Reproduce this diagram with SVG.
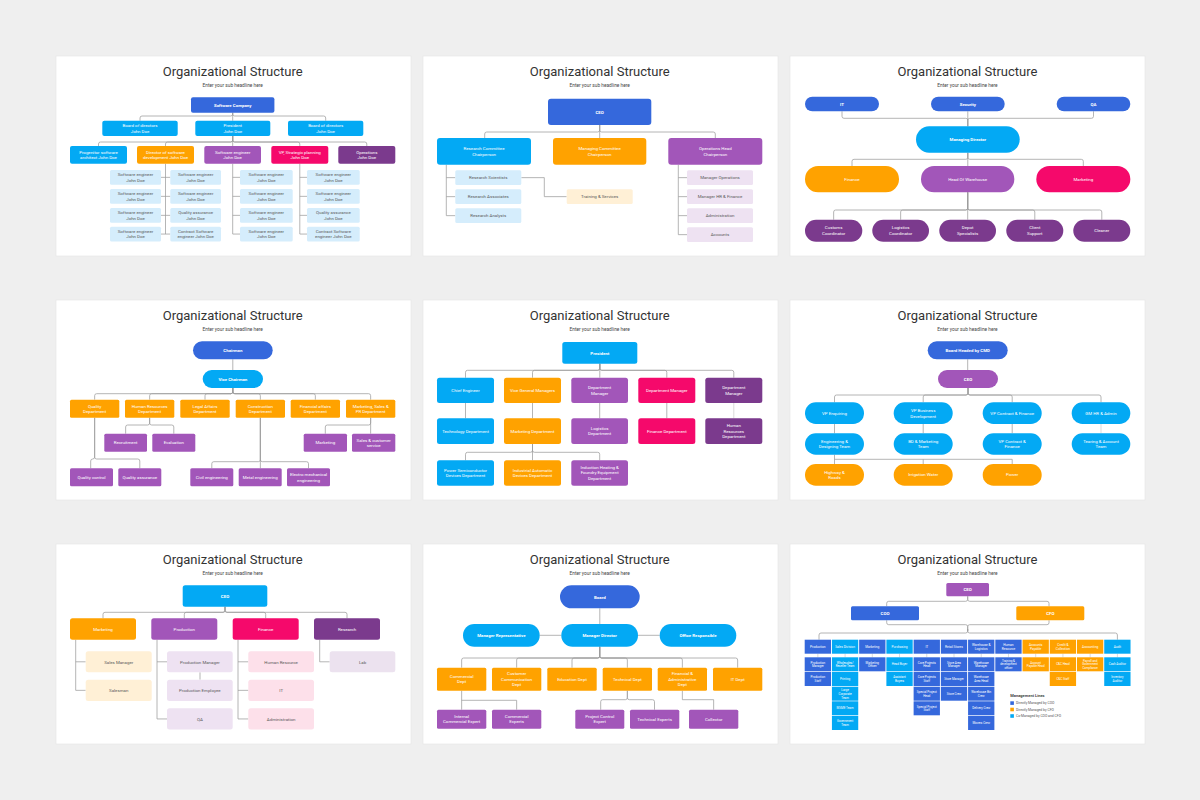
<svg xmlns="http://www.w3.org/2000/svg" width="1200" height="800" viewBox="0 0 1200 800">
<style>
.pg{fill:#fff;stroke:#e3e3e3;stroke-width:0.6}
.tt{font-family:Roboto,"Liberation Sans",Arial,sans-serif;font-size:13px;fill:#333;text-anchor:middle}
.st{font-family:Roboto,"Liberation Sans",Arial,sans-serif;font-size:4.8px;fill:#444;text-anchor:middle}
.tx{font-family:Roboto,"Liberation Sans",Arial,sans-serif;text-anchor:middle;font-size:4.4px}
.b{font-weight:700}
.wt{fill:#fff}
.dk{fill:#5a5a5a}
.db{fill:#3568dc}.cy{fill:#03a9f4}.or{fill:#ffa200}.pu{fill:#a256b9}.mg{fill:#f5096b}.dp{fill:#7b3a8d}
.pb{fill:#d5edfc}.po{fill:#fff0d6}.pp{fill:#eee2f2}.pk{fill:#fde0ea}.pl{fill:#ece2ef}
.ln{fill:none;stroke:#9c9c9c;stroke-width:0.75}
.lt{fill:none;stroke:#cfcfcf;stroke-width:0.75}
.c9{font-size:3px}
.h9{font-size:3.2px}
.t9{font-size:2.9px}
</style>
<rect width="1200" height="800" fill="#efefef"/>

<!-- ================= SLIDE 1 ================= -->
<g id="slide1" transform="translate(55,55)">
<rect class="pg" x="1" y="1" width="355" height="200"/>
<text class="tt" x="177.7" y="20.8">Organizational Structure</text>
<text class="st" x="177.7" y="31.5">Enter your sub headline here</text>
<g id="s1-connectors">
<path class="ln" d="M177.7 57.7V59Q177.7 61 175.7 61H87Q85 61 85 63V65.7M177.7 57.7V65.7M177.7 57.7V59Q177.7 61 179.7 61H268.7Q270.7 61 270.7 63V65.7"/>
<path class="ln" d="M177.7 81V85Q177.7 87 175.7 87H45.5Q43.5 87 43.5 89V91M177.7 81V85Q177.7 87 175.7 87H112.5Q110.5 87 110.5 89V91M177.7 81V91M177.7 81V85Q177.7 87 179.7 87H242.8Q244.8 87 244.8 89V91M177.7 81V85Q177.7 87 179.7 87H309.8Q311.8 87 311.8 89V91"/>
<path class="ln" d="M110.5 108.7V179.05M106 122.35H115.3M106 141.35H115.3M106 160.35H115.3M106 179.05H115.3"/>
<path class="ln" d="M177.7 108.7V179.05M177.7 122.35H185M177.7 141.35H185M177.7 160.35H185M177.7 179.05H185"/>
<path class="ln" d="M244.8 108.7V179.05M244.8 122.35H252M244.8 141.35H252M244.8 160.35H252M244.8 179.05H252"/>
</g>
<g id="s1-root"><rect class="db" x="136" y="42.3" width="83.4" height="15.4" rx="2"/><text class="tx b wt" font-size="5.2" x="177.7" y="51.8">Software Company</text></g>
<g id="s1-board1"><rect class="cy" x="47.3" y="65.7" width="75.4" height="15.3" rx="2"/><text class="tx wt" x="85" y="72">Board of directors<tspan x="85" dy="5.7">John Doe</tspan></text></g>
<g id="s1-president"><rect class="cy" x="140.3" y="65.7" width="75" height="15.3" rx="2"/><text class="tx wt" x="177.8" y="72">President<tspan x="177.8" dy="5.7">John Doe</tspan></text></g>
<g id="s1-board2"><rect class="cy" x="233" y="65.7" width="75.3" height="15.3" rx="2"/><text class="tx wt" x="270.65" y="72">Board of directors<tspan x="270.65" dy="5.7">John Doe</tspan></text></g>
<g id="s1-progenitor"><rect class="cy" x="15" y="91" width="57" height="17.7" rx="2"/><text class="tx wt" x="43.5" y="98.6">Progenitor software<tspan x="43.5" dy="5.6">architect  John Doe</tspan></text></g>
<g id="s1-director"><rect class="or" x="82" y="91" width="57" height="17.7" rx="2"/><text class="tx wt" x="110.5" y="98.6">Director of software<tspan x="110.5" dy="5.6">development  John Doe</tspan></text></g>
<g id="s1-swe"><rect class="pu" x="149.3" y="91" width="56.7" height="17.7" rx="2"/><text class="tx wt" x="177.65" y="98.6">Software engineer<tspan x="177.65" dy="5.6">John Doe</tspan></text></g>
<g id="s1-vp"><rect class="mg" x="216.3" y="91" width="57" height="17.7" rx="2"/><text class="tx wt" x="244.8" y="98.6">VP, Strategic planning<tspan x="244.8" dy="5.6">John Doe</tspan></text></g>
<g id="s1-ops"><rect class="dp" x="283.3" y="91" width="57" height="17.7" rx="2"/><text class="tx wt" x="311.8" y="98.6">Operations<tspan x="311.8" dy="5.6">John Doe</tspan></text></g>
<g id="s1-a1"><rect class="pb" x="55" y="115" width="51" height="14.7" rx="1.5"/><text class="tx dk" font-size="4.2" x="80.5" y="121.15">Software engineer<tspan x="80.5" dy="5.6">John Doe</tspan></text></g>
<g id="s1-a2"><rect class="pb" x="55" y="134" width="51" height="14.7" rx="1.5"/><text class="tx dk" font-size="4.2" x="80.5" y="140.15">Software engineer<tspan x="80.5" dy="5.6">John Doe</tspan></text></g>
<g id="s1-a3"><rect class="pb" x="55" y="153" width="51" height="14.7" rx="1.5"/><text class="tx dk" font-size="4.2" x="80.5" y="159.15">Software engineer<tspan x="80.5" dy="5.6">John Doe</tspan></text></g>
<g id="s1-a4"><rect class="pb" x="55" y="171.7" width="51" height="14.7" rx="1.5"/><text class="tx dk" font-size="4.2" x="80.5" y="177.85">Software engineer<tspan x="80.5" dy="5.6">John Doe</tspan></text></g>
<g id="s1-b1"><rect class="pb" x="115.3" y="115" width="50.7" height="14.7" rx="1.5"/><text class="tx dk" font-size="4.2" x="140.65" y="121.15">Software engineer<tspan x="140.65" dy="5.6">John Doe</tspan></text></g>
<g id="s1-b2"><rect class="pb" x="115.3" y="134" width="50.7" height="14.7" rx="1.5"/><text class="tx dk" font-size="4.2" x="140.65" y="140.15">Software engineer<tspan x="140.65" dy="5.6">John Doe</tspan></text></g>
<g id="s1-b3"><rect class="pb" x="115.3" y="153" width="50.7" height="14.7" rx="1.5"/><text class="tx dk" font-size="4.2" x="140.65" y="159.15">Quality assurance<tspan x="140.65" dy="5.6">John Doe</tspan></text></g>
<g id="s1-b4"><rect class="pb" x="115.3" y="171.7" width="50.7" height="14.7" rx="1.5"/><text class="tx dk" font-size="4.2" x="140.65" y="177.85">Contract Software<tspan x="140.65" dy="5.6">engineer  John Doe</tspan></text></g>
<g id="s1-c1"><rect class="pb" x="185" y="115" width="52.7" height="14.7" rx="1.5"/><text class="tx dk" font-size="4.2" x="211.35" y="121.15">Software engineer<tspan x="211.35" dy="5.6">John Doe</tspan></text></g>
<g id="s1-c2"><rect class="pb" x="185" y="134" width="52.7" height="14.7" rx="1.5"/><text class="tx dk" font-size="4.2" x="211.35" y="140.15">Software engineer<tspan x="211.35" dy="5.6">John Doe</tspan></text></g>
<g id="s1-c3"><rect class="pb" x="185" y="153" width="52.7" height="14.7" rx="1.5"/><text class="tx dk" font-size="4.2" x="211.35" y="159.15">Software engineer<tspan x="211.35" dy="5.6">John Doe</tspan></text></g>
<g id="s1-c4"><rect class="pb" x="185" y="171.7" width="52.7" height="14.7" rx="1.5"/><text class="tx dk" font-size="4.2" x="211.35" y="177.85">Software engineer<tspan x="211.35" dy="5.6">John Doe</tspan></text></g>
<g id="s1-d1"><rect class="pb" x="252" y="115" width="52.7" height="14.7" rx="1.5"/><text class="tx dk" font-size="4.2" x="278.35" y="121.15">Software engineer<tspan x="278.35" dy="5.6">John Doe</tspan></text></g>
<g id="s1-d2"><rect class="pb" x="252" y="134" width="52.7" height="14.7" rx="1.5"/><text class="tx dk" font-size="4.2" x="278.35" y="140.15">Software engineer<tspan x="278.35" dy="5.6">John Doe</tspan></text></g>
<g id="s1-d3"><rect class="pb" x="252" y="153" width="52.7" height="14.7" rx="1.5"/><text class="tx dk" font-size="4.2" x="278.35" y="159.15">Quality assurance<tspan x="278.35" dy="5.6">John Doe</tspan></text></g>
<g id="s1-d4"><rect class="pb" x="252" y="171.7" width="52.7" height="14.7" rx="1.5"/><text class="tx dk" font-size="4.2" x="278.35" y="177.85">Contract Software<tspan x="278.35" dy="5.6">engineer  John Doe</tspan></text></g>
</g>

<!-- ================= SLIDE 2 ================= -->
<g id="slide2" transform="translate(422,55)">
<rect class="pg" x="1" y="1" width="355" height="200"/>
<text class="tt" x="177.7" y="20.8">Organizational Structure</text>
<text class="st" x="177.7" y="31.5">Enter your sub headline here</text>
<g id="s2-connectors">
<path class="ln" d="M177.7 70V83M177.7 70V75Q177.7 77 175.7 77H64.7Q62.7 77 62.7 79V83M177.7 70V75Q177.7 77 179.7 77H291.3Q293.3 77 293.3 79V83"/>
<path class="ln" d="M24.3 109.7V160.65M24.3 122.65H33.3M24.3 141.65H33.3M24.3 160.65H33.3"/>
<path class="ln" d="M99.3 122.65H122.3V141.65H144.7"/>
<path class="ln" d="M256.3 109.7V179.65M256.3 122.65H265M256.3 141.65H265M256.3 160.65H265M256.3 179.65H265"/>
</g>
<g id="s2-ceo"><rect class="db" x="126" y="43.7" width="103.3" height="26.3" rx="3"/><text class="tx b wt" font-size="5.3" x="177.7" y="58.8">CEO</text></g>
<g id="s2-research"><rect class="cy" x="15" y="83" width="94" height="26.7" rx="3"/><text class="tx wt" font-size="4.8" x="62" y="95.3">Research Committee<tspan x="62" dy="6">Chairperson</tspan></text></g>
<g id="s2-managing"><rect class="or" x="131" y="83" width="93.3" height="26.7" rx="3"/><text class="tx wt" font-size="4.8" x="177.65" y="95.3">Managing Committee<tspan x="177.65" dy="6">Chairperson</tspan></text></g>
<g id="s2-operations"><rect class="pu" x="246.3" y="83" width="94" height="26.7" rx="3"/><text class="tx wt" font-size="4.8" x="293.3" y="95.3">Operations Head<tspan x="293.3" dy="6">Chairperson</tspan></text></g>
<g id="s2-scientists"><rect class="pb" x="33.3" y="115.3" width="66" height="14.7" rx="1.5"/><text class="tx dk" x="66.3" y="124.2">Research Scientists</text></g>
<g id="s2-associates"><rect class="pb" x="33.3" y="134.3" width="66" height="14.7" rx="1.5"/><text class="tx dk" x="66.3" y="143.2">Research Associates</text></g>
<g id="s2-analysts"><rect class="pb" x="33.3" y="153.3" width="66" height="14.7" rx="1.5"/><text class="tx dk" x="66.3" y="162.2">Research Analysts</text></g>
<g id="s2-training"><rect class="po" x="144.7" y="134.3" width="66" height="14.7" rx="1.5"/><text class="tx dk" x="177.7" y="143.2">Training &amp; Services</text></g>
<g id="s2-mgrops"><rect class="pp" x="265" y="115.3" width="66" height="14.7" rx="1.5"/><text class="tx dk" x="298" y="124.2">Manager Operations</text></g>
<g id="s2-mgrhr"><rect class="pp" x="265" y="134.3" width="66" height="14.7" rx="1.5"/><text class="tx dk" x="298" y="143.2">Manager HR &amp; Finance</text></g>
<g id="s2-admin"><rect class="pp" x="265" y="153.3" width="66" height="14.7" rx="1.5"/><text class="tx dk" x="298" y="162.2">Administration</text></g>
<g id="s2-accounts"><rect class="pp" x="265" y="172.3" width="66" height="14.7" rx="1.5"/><text class="tx dk" x="298" y="181.2">Accounts</text></g>
</g>

<!-- ================= SLIDE 3 ================= -->
<g id="slide3" transform="translate(789,55)">
<rect class="pg" x="1" y="1" width="355" height="200"/>
<text class="tt" x="178.5" y="20.8">Organizational Structure</text>
<text class="st" x="178.5" y="31.5">Enter your sub headline here</text>
<g id="s3-connectors">
<path class="ln" d="M53 56.3V61.3Q53 63.3 55 63.3H176.8Q178.8 63.3 178.8 65.3V71.3M178.8 56.3V71.3M304.5 56.3V61.3Q304.5 63.3 302.5 63.3H180.8Q178.8 63.3 178.8 65.3V71.3"/>
<path class="ln" d="M178.8 97.7V111M178.8 97.7V102.3Q178.8 104.3 176.8 104.3H65Q63 104.3 63 106.3V111M178.8 97.7V102.3Q178.8 104.3 180.8 104.3H292.3Q294.3 104.3 294.3 106.3V111"/>
<path class="ln" d="M178.7 137.3V153Q178.7 155 176.7 155H46.65Q44.65 155 44.65 157V164.7M178.7 137.3V153Q178.7 155 176.7 155H113.65Q111.65 155 111.65 157V164.7M178.7 137.3V164.7M178.7 137.3V153Q178.7 155 180.7 155H243.8Q245.8 155 245.8 157V164.7M178.7 137.3V153Q178.7 155 180.7 155H310.8Q312.8 155 312.8 157V164.7"/>
</g>
<g id="s3-it"><rect class="db" x="16" y="41.7" width="74" height="14.6" rx="7.3"/><text class="tx b wt" font-size="5" x="53" y="50.8">IT</text></g>
<g id="s3-security"><rect class="db" x="142" y="41.7" width="73.7" height="14.6" rx="7.3"/><text class="tx b wt" font-size="5" x="178.85" y="50.8">Security</text></g>
<g id="s3-qa"><rect class="db" x="267.7" y="41.7" width="73.6" height="14.6" rx="7.3"/><text class="tx b wt" font-size="5" x="304.5" y="50.8">QA</text></g>
<g id="s3-md"><rect class="cy" x="127" y="71.3" width="103.7" height="26.4" rx="13.2"/><text class="tx b wt" font-size="5.3" x="178.85" y="86.4">Managing Director</text></g>
<g id="s3-finance"><rect class="or" x="16" y="111" width="94" height="26.3" rx="13.1"/><text class="tx wt" font-size="5.3" x="63" y="126">Finance</text></g>
<g id="s3-how"><rect class="pu" x="132" y="111" width="93.3" height="26.3" rx="13.1"/><text class="tx wt" font-size="5.3" x="178.65" y="126">Head Of Warehouse</text></g>
<g id="s3-marketing"><rect class="mg" x="247.3" y="111" width="94" height="26.3" rx="13.1"/><text class="tx wt" font-size="5.3" x="294.3" y="126">Marketing</text></g>
<g id="s3-customs"><rect class="dp" x="16" y="164.7" width="57.3" height="22" rx="11"/><text class="tx wt" x="44.65" y="174.4">Customs<tspan x="44.65" dy="5.6">Coordinator</tspan></text></g>
<g id="s3-logistics"><rect class="dp" x="83.3" y="164.7" width="56.7" height="22" rx="11"/><text class="tx wt" x="111.65" y="174.4">Logistics<tspan x="111.65" dy="5.6">Coordinator</tspan></text></g>
<g id="s3-depot"><rect class="dp" x="150.3" y="164.7" width="56.7" height="22" rx="11"/><text class="tx wt" x="178.65" y="174.4">Depot<tspan x="178.65" dy="5.6">Specialists</tspan></text></g>
<g id="s3-client"><rect class="dp" x="217.3" y="164.7" width="57" height="22" rx="11"/><text class="tx wt" x="245.8" y="174.4">Client<tspan x="245.8" dy="5.6">Support</tspan></text></g>
<g id="s3-cleaner"><rect class="dp" x="284.3" y="164.7" width="57" height="22" rx="11"/><text class="tx wt" x="312.8" y="177.3">Cleaner</text></g>
</g>

<!-- ================= SLIDE 4 ================= -->
<g id="slide4" transform="translate(55,299)">
<rect class="pg" x="1" y="1" width="355" height="200"/>
<text class="tt" x="177.7" y="20.8">Organizational Structure</text>
<text class="st" x="177.7" y="31.5">Enter your sub headline here</text>
<g id="s4-connectors">
<path class="ln" d="M177.8 60.3V71"/>
<path class="ln" d="M177.8 89V92.7Q177.8 94.7 175.8 94.7H41.65Q39.65 94.7 39.65 96.7V100.7M177.8 89V92.7Q177.8 94.7 175.8 94.7H96.65Q94.65 94.7 94.65 96.7V100.7M177.8 89V92.7Q177.8 94.7 175.8 94.7H152Q150 94.7 150 96.7V100.7M177.8 89V92.7Q177.8 94.7 179.8 94.7H203.35Q205.35 94.7 205.35 96.7V100.7M177.8 89V92.7Q177.8 94.7 179.8 94.7H258.35Q260.35 94.7 260.35 96.7V100.7M177.8 89V92.7Q177.8 94.7 179.8 94.7H313.65Q315.65 94.7 315.65 96.7V100.7"/>
<path class="ln" d="M94.65 118.7V124Q94.65 126 92.65 126H72.65Q70.65 126 70.65 128V134.7M94.65 118.7V124Q94.65 126 96.65 126H116.8Q118.8 126 118.8 128V134.7"/>
<path class="ln" d="M315.65 118.7V134.7M315.65 118.7V124Q315.65 126 313.65 126H272.3Q270.3 126 270.3 128V134.7"/>
<path class="ln" d="M39.65 118.7V158Q39.65 160 37.65 160Q35.7 160 35.7 162V169.3M39.65 118.7V158Q39.65 160 41.65 160H82.8Q84.8 160 84.8 162V169.3"/>
<path class="ln" d="M205.35 118.7V169.3M205.35 118.7V160.7Q205.35 162.7 203.35 162.7H158.8Q156.8 162.7 156.8 164.7V169.3M205.35 118.7V160.7Q205.35 162.7 207.35 162.7H251.5Q253.5 162.7 253.5 164.7V169.3"/>
</g>
<g id="s4-chairman"><rect class="db" x="138" y="42.3" width="79.7" height="18" rx="9"/><text class="tx b wt" font-size="5.2" x="177.85" y="53.2">Chairman</text></g>
<g id="s4-vice"><rect class="cy" x="147.7" y="71" width="60.3" height="18" rx="9"/><text class="tx b wt" font-size="5" x="177.85" y="81.8">Vice Chairman</text></g>
<g id="s4-quality"><rect class="or" x="15" y="100.7" width="49.3" height="18" rx="1.5"/><text class="tx wt" font-size="4.2" x="39.65" y="108.6">Quality<tspan x="39.65" dy="5.4">Department</tspan></text></g>
<g id="s4-hr"><rect class="or" x="70" y="100.7" width="49.3" height="18" rx="1.5"/><text class="tx wt" font-size="4.2" x="94.65" y="108.6">Human Resources<tspan x="94.65" dy="5.4">Department</tspan></text></g>
<g id="s4-legal"><rect class="or" x="125.3" y="100.7" width="49.4" height="18" rx="1.5"/><text class="tx wt" font-size="4.2" x="150" y="108.6">Legal Affairs<tspan x="150" dy="5.4">Department</tspan></text></g>
<g id="s4-construction"><rect class="or" x="180.7" y="100.7" width="49.3" height="18" rx="1.5"/><text class="tx wt" font-size="4.2" x="205.35" y="108.6">Construction<tspan x="205.35" dy="5.4">Department</tspan></text></g>
<g id="s4-financial"><rect class="or" x="235.7" y="100.7" width="49.3" height="18" rx="1.5"/><text class="tx wt" font-size="4.2" x="260.35" y="108.6">Financial affairs<tspan x="260.35" dy="5.4">Department</tspan></text></g>
<g id="s4-mktsales"><rect class="or" x="291" y="100.7" width="49.3" height="18" rx="1.5"/><text class="tx wt" font-size="4.2" x="315.65" y="108.6">Marketing, Sales &amp;<tspan x="315.65" dy="5.4">PR Department</tspan></text></g>
<g id="s4-recruitment"><rect class="pu" x="49.3" y="134.7" width="42.7" height="18" rx="1.5"/><text class="tx wt" font-size="4.2" x="70.65" y="145.2">Recruitment</text></g>
<g id="s4-evaluation"><rect class="pu" x="97.3" y="134.7" width="43" height="18" rx="1.5"/><text class="tx wt" font-size="4.2" x="118.8" y="145.2">Evaluation</text></g>
<g id="s4-marketing"><rect class="pu" x="248.7" y="134.7" width="43.3" height="18" rx="1.5"/><text class="tx wt" font-size="4.2" x="270.35" y="145.2">Marketing</text></g>
<g id="s4-sales"><rect class="pu" x="297" y="134.7" width="43.3" height="18" rx="1.5"/><text class="tx wt" font-size="4.2" x="318.65" y="142.6">Sales &amp; customer<tspan x="318.65" dy="5.4">service</tspan></text></g>
<g id="s4-qc"><rect class="pu" x="15" y="169.3" width="43" height="18" rx="1.5"/><text class="tx wt" font-size="4.2" x="36.5" y="179.8">Quality control</text></g>
<g id="s4-qa"><rect class="pu" x="63.3" y="169.3" width="43" height="18" rx="1.5"/><text class="tx wt" font-size="4.2" x="84.8" y="179.8">Quality assurance</text></g>
<g id="s4-civil"><rect class="pu" x="135.3" y="169.3" width="43" height="18" rx="1.5"/><text class="tx wt" font-size="4.2" x="156.8" y="179.8">Civil engineering</text></g>
<g id="s4-metal"><rect class="pu" x="183.7" y="169.3" width="43" height="18" rx="1.5"/><text class="tx wt" font-size="4.2" x="205.2" y="179.8">Metal engineering</text></g>
<g id="s4-electro"><rect class="pu" x="232" y="169.3" width="43" height="18" rx="1.5"/><text class="tx wt" font-size="4.2" x="253.5" y="177.2">Electro mechanical<tspan x="253.5" dy="5.4">engineering</tspan></text></g>
</g>

<!-- ================= SLIDE 5 ================= -->
<g id="slide5" transform="translate(422,299)">
<rect class="pg" x="1" y="1" width="355" height="200"/>
<text class="tt" x="177.7" y="20.8">Organizational Structure</text>
<text class="st" x="177.7" y="31.5">Enter your sub headline here</text>
<g id="s5-connectors">
<path class="ln" d="M177.8 64.7V69.3Q177.8 71.3 175.8 71.3H45.5Q43.5 71.3 43.5 73.3V78.7M177.8 64.7V69.3Q177.8 71.3 175.8 71.3H112.5Q110.5 71.3 110.5 73.3V78.7M177.8 64.7V78.7M177.8 64.7V69.3Q177.8 71.3 179.8 71.3H242.8Q244.8 71.3 244.8 73.3V78.7M177.8 64.7V69.3Q177.8 71.3 179.8 71.3H309.8Q311.8 71.3 311.8 73.3V78.7"/>
<path class="ln" d="M43.5 104V119.3M110.5 104V119.3M177.7 104V119.3M244.8 104V119.3"/>
<path class="lt" d="M311.8 104V119.3"/>
<path class="ln" d="M110.5 145V161.3M110.5 145V151.3Q110.5 153.3 108.5 153.3H45.5Q43.5 153.3 43.5 155.3V161.3M110.5 145V151.3Q110.5 153.3 112.5 153.3H175.7Q177.7 153.3 177.7 155.3V161.3"/>
</g>
<g id="s5-president"><rect class="cy" x="140.3" y="43" width="75" height="21.7" rx="2.5"/><text class="tx b wt" font-size="5.2" x="177.8" y="55.7">President</text></g>
<g id="s5-chief"><rect class="cy" x="15" y="78.7" width="57" height="25.3" rx="2.5"/><text class="tx wt" x="43.5" y="92.9">Chief Engineer</text></g>
<g id="s5-vgm"><rect class="or" x="82" y="78.7" width="57" height="25.3" rx="2.5"/><text class="tx wt" x="110.5" y="92.9">Vice General Managers</text></g>
<g id="s5-dm1"><rect class="pu" x="149.3" y="78.7" width="56.7" height="25.3" rx="2.5"/><text class="tx wt" x="177.65" y="90.1">Department<tspan x="177.65" dy="5.5">Manager</tspan></text></g>
<g id="s5-dm2"><rect class="mg" x="216.3" y="78.7" width="57" height="25.3" rx="2.5"/><text class="tx wt" x="244.8" y="92.9">Department Manager</text></g>
<g id="s5-dm3"><rect class="dp" x="283.3" y="78.7" width="57" height="25.3" rx="2.5"/><text class="tx wt" x="311.8" y="90.1">Department<tspan x="311.8" dy="5.5">Manager</tspan></text></g>
<g id="s5-tech"><rect class="cy" x="15" y="119.3" width="57" height="25.7" rx="2.5"/><text class="tx wt" x="43.5" y="133.7">Technology Department</text></g>
<g id="s5-mkt"><rect class="or" x="82" y="119.3" width="57" height="25.7" rx="2.5"/><text class="tx wt" x="110.5" y="133.7">Marketing Department</text></g>
<g id="s5-logistics"><rect class="pu" x="149.3" y="119.3" width="56.7" height="25.7" rx="2.5"/><text class="tx wt" x="177.65" y="130.9">Logistics<tspan x="177.65" dy="5.5">Department</tspan></text></g>
<g id="s5-finance"><rect class="mg" x="216.3" y="119.3" width="57" height="25.7" rx="2.5"/><text class="tx wt" x="244.8" y="133.7">Finance Department</text></g>
<g id="s5-hr"><rect class="dp" x="283.3" y="119.3" width="57" height="25.7" rx="2.5"/><text class="tx wt" x="311.8" y="128.3">Human<tspan x="311.8" dy="5.4">Resources</tspan><tspan x="311.8" dy="5.4">Department</tspan></text></g>
<g id="s5-power"><rect class="cy" x="15" y="161.3" width="57" height="25.4" rx="2.5"/><text class="tx wt" x="43.5" y="172.7">Power Semiconductor<tspan x="43.5" dy="5.5">Devices Department</tspan></text></g>
<g id="s5-industrial"><rect class="or" x="82" y="161.3" width="57" height="25.4" rx="2.5"/><text class="tx wt" x="110.5" y="172.7">Industrial Automatic<tspan x="110.5" dy="5.5">Devices Department</tspan></text></g>
<g id="s5-induction"><rect class="pu" x="149.3" y="161.3" width="56.7" height="25.4" rx="2.5"/><text class="tx wt" x="177.65" y="170">Induction Heating &amp;<tspan x="177.65" dy="5.4">Foundry Equipment</tspan><tspan x="177.65" dy="5.4">Department</tspan></text></g>
</g>

<!-- ================= SLIDE 6 ================= -->
<g id="slide6" transform="translate(789,299)">
<rect class="pg" x="1" y="1" width="355" height="200"/>
<text class="tt" x="178.5" y="20.8">Organizational Structure</text>
<text class="st" x="178.5" y="31.5">Enter your sub headline here</text>
<g id="s6-connectors">
<path class="ln" d="M178.7 60.3V71"/>
<path class="ln" d="M179 89V94Q179 96 177 96H47.5Q45.5 96 45.5 98V103.3M179 89V94Q179 96 177 96H136.2Q134.2 96 134.2 98V103.3M179 89V94Q179 96 181 96H221.2Q223.2 96 223.2 98V103.3M179 89V94Q179 96 181 96H310Q312 96 312 98V103.3"/>
<path class="ln" d="M45.5 125V134.3M134.2 125V134.3M223.2 125V134.3"/>
<path class="lt" d="M312 125V134.3"/>
<path class="ln" d="M45.5 155.7V165M45.5 160.3H223.2V165M134.2 160.3V165"/>
</g>
<g id="s6-board"><rect class="db" x="138.7" y="42.3" width="80" height="18" rx="9"/><text class="tx b wt" font-size="5" x="178.7" y="53.1">Board Headed by CMD</text></g>
<g id="s6-ceo"><rect class="pu" x="149" y="71" width="60" height="18" rx="9"/><text class="tx b wt" font-size="4.8" x="179" y="81.7">CEO</text></g>
<g id="s6-vpe"><rect class="cy" x="16" y="103.3" width="59" height="21.7" rx="10.8"/><text class="tx wt" x="45.5" y="115.7">VP Enquiring</text></g>
<g id="s6-vpb"><rect class="cy" x="104.7" y="103.3" width="59" height="21.7" rx="10.8"/><text class="tx wt" x="134.2" y="112.9">VP Business<tspan x="134.2" dy="5.6">Development</tspan></text></g>
<g id="s6-vpc"><rect class="cy" x="193.7" y="103.3" width="59" height="21.7" rx="10.8"/><text class="tx wt" x="223.2" y="115.7">VP Contract &amp; Finance</text></g>
<g id="s6-gm"><rect class="cy" x="282.7" y="103.3" width="58.6" height="21.7" rx="10.8"/><text class="tx wt" x="312" y="115.7">GM HR &amp; Admin</text></g>
<g id="s6-eng"><rect class="cy" x="16" y="134.3" width="59" height="21.4" rx="10.7"/><text class="tx wt" x="45.5" y="143.7">Engineering &amp;<tspan x="45.5" dy="5.6">Designing  Team</tspan></text></g>
<g id="s6-bd"><rect class="cy" x="104.7" y="134.3" width="59" height="21.4" rx="10.7"/><text class="tx wt" x="134.2" y="143.7">BD &amp; Marketing<tspan x="134.2" dy="5.6">Team</tspan></text></g>
<g id="s6-vpc2"><rect class="cy" x="193.7" y="134.3" width="59" height="21.4" rx="10.7"/><text class="tx wt" x="223.2" y="143.7">VP Contract &amp;<tspan x="223.2" dy="5.6">Finance</tspan></text></g>
<g id="s6-tearing"><rect class="cy" x="282.7" y="134.3" width="58.6" height="21.4" rx="10.7"/><text class="tx wt" x="312" y="143.7">Tearing &amp; Account<tspan x="312" dy="5.6">Team</tspan></text></g>
<g id="s6-highway"><rect class="or" x="16" y="165" width="59" height="21.7" rx="10.8"/><text class="tx wt" x="45.5" y="174.5">Highway &amp;<tspan x="45.5" dy="5.6">Roads</tspan></text></g>
<g id="s6-irrigation"><rect class="or" x="104.7" y="165" width="59" height="21.7" rx="10.8"/><text class="tx wt" x="134.2" y="177.4">Irrigation Water</text></g>
<g id="s6-power"><rect class="or" x="193.7" y="165" width="59" height="21.7" rx="10.8"/><text class="tx wt" x="223.2" y="177.4">Power</text></g>
</g>

<!-- ================= SLIDE 7 ================= -->
<g id="slide7" transform="translate(55,543)">
<rect class="pg" x="1" y="1" width="355" height="200"/>
<text class="tt" x="177.7" y="20.8">Organizational Structure</text>
<text class="st" x="177.7" y="31.5">Enter your sub headline here</text>
<g id="s7-connectors">
<path class="ln" d="M170 63.7V67.3Q170 69.3 168 69.3H50Q48 69.3 48 71.3V75.3M170 63.7V67.3Q170 69.3 168 69.3H131.3Q129.3 69.3 129.3 71.3V75.3M170 63.7V67.3Q170 69.3 172 69.3H208.7Q210.7 69.3 210.7 71.3V75.3M170 63.7V67.3Q170 69.3 172 69.3H290Q292 69.3 292 71.3V75.3"/>
<path class="ln" d="M20.7 96.7V147.35M20.7 118.8H30.7M20.7 147.35H30.7"/>
<path class="ln" d="M102 96.7V175.95M102 118.8H112M102 175.95H112M145 129.3V136.7"/>
<path class="ln" d="M183 96.7V175.95M183 118.8H193.3M183 147.35H193.3M183 175.95H193.3"/>
<path class="ln" d="M264.7 96.7V118.8H274.7"/>
</g>
<g id="s7-ceo"><rect class="cy" x="127.7" y="42.3" width="84.6" height="21.4" rx="2.5"/><text class="tx b wt" font-size="5.8" x="170" y="55.1">CEO</text></g>
<g id="s7-marketing"><rect class="or" x="15" y="75.3" width="66" height="21.4" rx="2.5"/><text class="tx wt" x="48" y="87.5">Marketing</text></g>
<g id="s7-production"><rect class="pu" x="96.3" y="75.3" width="66" height="21.4" rx="2.5"/><text class="tx wt" x="129.3" y="87.5">Production</text></g>
<g id="s7-finance"><rect class="mg" x="177.7" y="75.3" width="66" height="21.4" rx="2.5"/><text class="tx wt" x="210.7" y="87.5">Finance</text></g>
<g id="s7-research"><rect class="dp" x="259" y="75.3" width="66" height="21.4" rx="2.5"/><text class="tx wt" x="292" y="87.5">Research</text></g>
<g id="s7-salesmgr"><rect class="po" x="30.7" y="108.3" width="66" height="21" rx="2.5"/><text class="tx dk" font-size="4.8" x="63.7" y="120.5">Sales Manager</text></g>
<g id="s7-salesman"><rect class="po" x="30.7" y="136.7" width="66" height="21.3" rx="2.5"/><text class="tx dk" font-size="4.8" x="63.7" y="149">Salesman</text></g>
<g id="s7-prodmgr"><rect class="pp" x="112" y="108.3" width="65.7" height="21" rx="2.5"/><text class="tx dk" font-size="4.8" x="144.85" y="120.5">Production Manager</text></g>
<g id="s7-prodemp"><rect class="pp" x="112" y="136.7" width="65.7" height="21.3" rx="2.5"/><text class="tx dk" font-size="4.8" x="144.85" y="149">Production Employee</text></g>
<g id="s7-qa"><rect class="pp" x="112" y="165.3" width="65.7" height="21.3" rx="2.5"/><text class="tx dk" font-size="4.8" x="144.85" y="177.6">QA</text></g>
<g id="s7-hr"><rect class="pk" x="193.3" y="108.3" width="65.7" height="21" rx="2.5"/><text class="tx dk" font-size="4.8" x="226.15" y="120.5">Human Resource</text></g>
<g id="s7-it"><rect class="pk" x="193.3" y="136.7" width="65.7" height="21.3" rx="2.5"/><text class="tx dk" font-size="4.8" x="226.15" y="149">IT</text></g>
<g id="s7-admin"><rect class="pk" x="193.3" y="165.3" width="65.7" height="21.3" rx="2.5"/><text class="tx dk" font-size="4.8" x="226.15" y="177.6">Administration</text></g>
<g id="s7-lab"><rect class="pl" x="274.7" y="108.3" width="65.6" height="21" rx="2.5"/><text class="tx dk" font-size="4.8" x="307.5" y="120.5">Lab</text></g>
</g>

<!-- ================= SLIDE 8 ================= -->
<g id="slide8" transform="translate(422,543)">
<rect class="pg" x="1" y="1" width="355" height="200"/>
<text class="tt" x="177.7" y="20.8">Organizational Structure</text>
<text class="st" x="177.7" y="31.5">Enter your sub headline here</text>
<g id="s8-connectors">
<path class="ln" d="M177.8 65.3V81M117.7 92.3H139.3M216 92.3H237.7"/>
<path class="ln" d="M177.7 103.7V113Q177.7 115 175.7 115H41.65Q39.65 115 39.65 117V124.7M177.7 103.7V113Q177.7 115 175.7 115H96.65Q94.65 115 94.65 117V124.7M177.7 103.7V113Q177.7 115 175.7 115H152Q150 115 150 117V124.7M177.7 103.7V113Q177.7 115 179.7 115H203.35Q205.35 115 205.35 117V124.7M177.7 103.7V113Q177.7 115 179.7 115H258.35Q260.35 115 260.35 117V124.7M177.7 103.7V113Q177.7 115 179.7 115H313.65Q315.65 115 315.65 117V124.7"/>
<path class="ln" d="M39.65 147.7V166.7M39.65 157.3H94.65V166.7"/>
<path class="ln" d="M205.35 147.7V154.7Q205.35 156.7 203.35 156.7H180.7Q178.7 156.7 178.7 158.7V166.7M205.35 147.7V154.7Q205.35 156.7 207.35 156.7H230.5Q232.5 156.7 232.5 158.7V166.7"/>
<path class="ln" d="M260.35 147.7V156.7H291.65V166.7"/>
</g>
<g id="s8-board"><rect class="db" x="138" y="42.3" width="79.7" height="23" rx="11.5"/><text class="tx b wt" font-size="5.4" x="177.85" y="55.7">Board</text></g>
<g id="s8-rep"><rect class="cy" x="41" y="81" width="76.7" height="22.7" rx="11.3"/><text class="tx b wt" font-size="5.3" x="79.35" y="94.2">Manager Representative</text></g>
<g id="s8-md"><rect class="cy" x="139.3" y="81" width="76.7" height="22.7" rx="11.3"/><text class="tx b wt" font-size="5.3" x="177.65" y="94.2">Manager Director</text></g>
<g id="s8-office"><rect class="cy" x="237.7" y="81" width="76.6" height="22.7" rx="11.3"/><text class="tx b wt" font-size="5.3" x="276" y="94.2">Office Responsible</text></g>
<g id="s8-commercial"><rect class="or" x="15" y="124.7" width="49.3" height="23" rx="1.5"/><text class="tx wt" font-size="4.2" x="39.65" y="134.9">Commercial<tspan x="39.65" dy="5.4">Dept</tspan></text></g>
<g id="s8-customer"><rect class="or" x="70" y="124.7" width="49.3" height="23" rx="1.5"/><text class="tx wt" font-size="4.2" x="94.65" y="132.2">Customer<tspan x="94.65" dy="5.4">Communication</tspan><tspan x="94.65" dy="5.4">Dept</tspan></text></g>
<g id="s8-education"><rect class="or" x="125.3" y="124.7" width="49.4" height="23" rx="1.5"/><text class="tx wt" font-size="4.2" x="150" y="137.7">Education Dept</text></g>
<g id="s8-technical"><rect class="or" x="180.7" y="124.7" width="49.3" height="23" rx="1.5"/><text class="tx wt" font-size="4.2" x="205.35" y="137.7">Technical Dept</text></g>
<g id="s8-financial"><rect class="or" x="235.7" y="124.7" width="49.3" height="23" rx="1.5"/><text class="tx wt" font-size="4.2" x="260.35" y="132.2">Financial &amp;<tspan x="260.35" dy="5.4">Administrative</tspan><tspan x="260.35" dy="5.4">Dept</tspan></text></g>
<g id="s8-itdept"><rect class="or" x="291" y="124.7" width="49.3" height="23" rx="1.5"/><text class="tx wt" font-size="4.2" x="315.65" y="137.7">IT Dept</text></g>
<g id="s8-internal"><rect class="pu" x="15" y="166.7" width="49.3" height="19" rx="1.5"/><text class="tx wt" font-size="4.2" x="39.65" y="174.9">Internal<tspan x="39.65" dy="5.4">Commercial Expert</tspan></text></g>
<g id="s8-comexp"><rect class="pu" x="70" y="166.7" width="49.3" height="19" rx="1.5"/><text class="tx wt" font-size="4.2" x="94.65" y="174.9">Commercial<tspan x="94.65" dy="5.4">Experts</tspan></text></g>
<g id="s8-project"><rect class="pu" x="153.3" y="166.7" width="49" height="19" rx="1.5"/><text class="tx wt" font-size="4.2" x="177.8" y="174.9">Project Control<tspan x="177.8" dy="5.4">Expert</tspan></text></g>
<g id="s8-techexp"><rect class="pu" x="208" y="166.7" width="49.3" height="19" rx="1.5"/><text class="tx wt" font-size="4.2" x="232.65" y="177.7">Technical  Experts</text></g>
<g id="s8-collector"><rect class="pu" x="267" y="166.7" width="49.3" height="19" rx="1.5"/><text class="tx wt" font-size="4.2" x="291.65" y="177.7">Collector</text></g>
</g>

<!-- ================= SLIDE 9 ================= -->
<g id="slide9" transform="translate(789,543)">
<rect class="pg" x="1" y="1" width="355" height="200"/>
<text class="tt" x="178.5" y="20.8">Organizational Structure</text>
<text class="st" x="178.5" y="31.5">Enter your sub headline here</text>
<g id="s9-connectors">
<path class="ln" d="M178.7 53.3V56.3Q178.7 58.3 176.7 58.3H99.7Q97.7 58.3 97.7 60.3V63.3M178.7 53.3V56.3Q178.7 58.3 180.7 58.3H258Q260 58.3 260 60.3V63.3"/>
<path class="ln" d="M97.7 77.3V79.7Q97.7 81.7 99.7 81.7H176.7Q178.7 81.7 178.7 83.7V88M260 77.3V79.7Q260 81.7 258 81.7H180.7Q178.7 81.7 178.7 83.7V88"/>
<path class="ln" d="M178.7 86V88Q178.7 90 176.7 90H32Q30 90 30 92V96.7M178.7 86V88Q178.7 90 180.7 90H326.4Q328.4 90 328.4 92V96.7"/>
<path class="lt" d="M28.85 110.7V114.3M56.08 110.7V114.3M83.31 110.7V114.3M110.54 110.7V114.3M137.77 110.7V114.3M165 110.7V114.3M192.23 110.7V114.3M219.46 110.7V114.3M246.69 110.7V114.3M273.92 110.7V114.3M301.15 110.7V114.3M328.38 110.7V114.3"/>
</g>
<g id="s9-ceo"><rect class="pu" x="157.3" y="40" width="42.7" height="13.3" rx="1.5"/><text class="tx b wt" font-size="4.4" x="178.65" y="48.2">CEO</text></g>
<g id="s9-coo"><rect class="db" x="62" y="63.3" width="68" height="14" rx="1.5"/><text class="tx b wt" font-size="4.4" x="96" y="71.9">COO</text></g>
<g id="s9-cfo"><rect class="or" x="227.3" y="63.3" width="68" height="14" rx="1.5"/><text class="tx b wt" font-size="4.4" x="261.3" y="71.9">CFO</text></g>
<g id="s9-production"><rect class="db" x="15.7" y="96.7" width="26.3" height="14"/><text class="tx wt h9" x="28.85" y="104.8">Production</text>
<rect class="db" x="15.7" y="114.3" width="26.3" height="14"/><text class="tx wt c9" x="28.85" y="120.5">Production<tspan x="28.85" dy="3.9">Manager</tspan></text>
<rect class="db" x="15.7" y="129" width="26.3" height="14"/><text class="tx wt c9" x="28.85" y="135.2">Production<tspan x="28.85" dy="3.9">Staff</tspan></text></g>
<g id="s9-sales"><rect class="cy" x="42.93" y="96.7" width="26.3" height="14"/><text class="tx wt h9" x="56.08" y="104.8">Sales Division</text>
<rect class="cy" x="42.93" y="114.3" width="26.3" height="14"/><text class="tx wt c9" x="56.08" y="120.5">Wholesales/<tspan x="56.08" dy="3.9">Reseller  Team</tspan></text>
<rect class="cy" x="42.93" y="129" width="26.3" height="14"/><text class="tx wt c9" x="56.08" y="137.1">Printing</text>
<rect class="cy" x="42.93" y="143.7" width="26.3" height="14"/><text class="tx wt c9" x="56.08" y="148">Large<tspan x="56.08" dy="3.9">Corporate</tspan><tspan x="56.08" dy="3.9">Team</tspan></text>
<rect class="cy" x="42.93" y="158.3" width="26.3" height="14"/><text class="tx wt c9" x="56.08" y="166.4">MSME Team</text>
<rect class="cy" x="42.93" y="173" width="26.3" height="14"/><text class="tx wt c9" x="56.08" y="179.2">Government<tspan x="56.08" dy="3.9">Team</tspan></text></g>
<g id="s9-marketing"><rect class="db" x="70.16" y="96.7" width="26.3" height="14"/><text class="tx wt h9" x="83.31" y="104.8">Marketing</text>
<rect class="db" x="70.16" y="114.3" width="26.3" height="14"/><text class="tx wt c9" x="83.31" y="120.5">Marketing<tspan x="83.31" dy="3.9">Officer</tspan></text></g>
<g id="s9-purchasing"><rect class="cy" x="97.39" y="96.7" width="26.3" height="14"/><text class="tx wt h9" x="110.54" y="104.8">Purchasing</text>
<rect class="cy" x="97.39" y="114.3" width="26.3" height="14"/><text class="tx wt c9" x="110.54" y="122.4">Head Buyer</text>
<rect class="cy" x="97.39" y="129" width="26.3" height="14"/><text class="tx wt c9" x="110.54" y="135.2">Assistant<tspan x="110.54" dy="3.9">Buyers</tspan></text></g>
<g id="s9-it"><rect class="db" x="124.62" y="96.7" width="26.3" height="14"/><text class="tx wt h9" x="137.77" y="104.8">IT</text>
<rect class="db" x="124.62" y="114.3" width="26.3" height="14"/><text class="tx wt c9" x="137.77" y="120.5">Core Projects<tspan x="137.77" dy="3.9">Head</tspan></text>
<rect class="db" x="124.62" y="129" width="26.3" height="14"/><text class="tx wt c9" x="137.77" y="135.2">Core Projects<tspan x="137.77" dy="3.9">Staff</tspan></text>
<rect class="db" x="124.62" y="143.7" width="26.3" height="14"/><text class="tx wt c9" x="137.77" y="149.9">Special Project<tspan x="137.77" dy="3.9">Head</tspan></text>
<rect class="db" x="124.62" y="158.3" width="26.3" height="14"/><text class="tx wt c9" x="137.77" y="164.5">Special Project<tspan x="137.77" dy="3.9">Staff</tspan></text></g>
<g id="s9-retail"><rect class="db" x="151.85" y="96.7" width="26.3" height="14"/><text class="tx wt h9" x="165" y="104.8">Retail Stores</text>
<rect class="db" x="151.85" y="114.3" width="26.3" height="14"/><text class="tx wt c9" x="165" y="120.5">Store Area<tspan x="165" dy="3.9">Manager</tspan></text>
<rect class="db" x="151.85" y="129" width="26.3" height="14"/><text class="tx wt c9" x="165" y="137.1">Store Manager</text>
<rect class="db" x="151.85" y="143.7" width="26.3" height="14"/><text class="tx wt c9" x="165" y="151.8">Store Crew</text></g>
<g id="s9-warehouse"><rect class="db" x="179.08" y="96.7" width="26.3" height="14"/><text class="tx wt h9" x="192.23" y="102.8">Warehouse &amp;<tspan x="192.23" dy="3.9">Logistics</tspan></text>
<rect class="db" x="179.08" y="114.3" width="26.3" height="14"/><text class="tx wt c9" x="192.23" y="120.5">Warehouse<tspan x="192.23" dy="3.9">Manager</tspan></text>
<rect class="db" x="179.08" y="129" width="26.3" height="14"/><text class="tx wt c9" x="192.23" y="135.2">Warehouse<tspan x="192.23" dy="3.9">Area Head</tspan></text>
<rect class="db" x="179.08" y="143.7" width="26.3" height="14"/><text class="tx wt c9" x="192.23" y="149.9">Warehouse Bin<tspan x="192.23" dy="3.9">Crew</tspan></text>
<rect class="db" x="179.08" y="158.3" width="26.3" height="14"/><text class="tx wt c9" x="192.23" y="166.4">Delivery Crew</text>
<rect class="db" x="179.08" y="173" width="26.3" height="14"/><text class="tx wt c9" x="192.23" y="181.1">Movers Crew</text></g>
<g id="s9-hr"><rect class="db" x="206.31" y="96.7" width="26.3" height="14"/><text class="tx wt h9" x="219.46" y="102.8">Human<tspan x="219.46" dy="3.9">Resource</tspan></text>
<rect class="db" x="206.31" y="114.3" width="26.3" height="14"/><text class="tx wt t9" x="219.46" y="118.6">Training &amp;<tspan x="219.46" dy="3.7">development</tspan><tspan x="219.46" dy="3.7">officer</tspan></text></g>
<g id="s9-ap"><rect class="or" x="233.54" y="96.7" width="26.3" height="14"/><text class="tx wt h9" x="246.69" y="102.8">Accounts<tspan x="246.69" dy="3.9">Payable</tspan></text>
<rect class="or" x="233.54" y="114.3" width="26.3" height="14"/><text class="tx wt t9" x="246.69" y="120.5">Account<tspan x="246.69" dy="3.9">Payable Head</tspan></text></g>
<g id="s9-cc"><rect class="or" x="260.77" y="96.7" width="26.3" height="14"/><text class="tx wt h9" x="273.92" y="102.8">Credit &amp;<tspan x="273.92" dy="3.9">Collection</tspan></text>
<rect class="or" x="260.77" y="114.3" width="26.3" height="14"/><text class="tx wt c9" x="273.92" y="122.4">C&amp;C Head</text>
<rect class="or" x="260.77" y="129" width="26.3" height="14"/><text class="tx wt c9" x="273.92" y="137.1">C&amp;C Staff</text></g>
<g id="s9-accounting"><rect class="or" x="288" y="96.7" width="26.3" height="14"/><text class="tx wt h9" x="301.15" y="104.8">Accounting</text>
<rect class="or" x="288" y="114.3" width="26.3" height="14"/><text class="tx wt t9" x="301.15" y="118.6">Payroll and<tspan x="301.15" dy="3.7">Government</tspan><tspan x="301.15" dy="3.7">Compliance</tspan></text></g>
<g id="s9-audit"><rect class="cy" x="315.23" y="96.7" width="26.3" height="14"/><text class="tx wt h9" x="328.38" y="104.8">Audit</text>
<rect class="cy" x="315.23" y="114.3" width="26.3" height="14"/><text class="tx wt c9" x="328.38" y="122.4">Cash Auditor</text>
<rect class="cy" x="315.23" y="129" width="26.3" height="14"/><text class="tx wt c9" x="328.38" y="135.2">Inventory<tspan x="328.38" dy="3.9">Auditor</tspan></text></g>
<g id="s9-legend">
<text x="221.3" y="154.2" font-family="Roboto, 'Liberation Sans', Arial, sans-serif" font-size="4" font-weight="700" fill="#444">Management Lines</text>
<rect class="db" x="221.3" y="158.3" width="3.6" height="3.6"/><text x="227" y="161.3" font-family="Roboto, 'Liberation Sans', Arial, sans-serif" font-size="3.4" fill="#555">Directly Managed by COO</text>
<rect class="or" x="221.3" y="164.7" width="3.6" height="3.6"/><text x="227" y="167.7" font-family="Roboto, 'Liberation Sans', Arial, sans-serif" font-size="3.4" fill="#555">Directly Managed by CFO</text>
<rect class="cy" x="221.3" y="171.2" width="3.6" height="3.6"/><text x="227" y="174.2" font-family="Roboto, 'Liberation Sans', Arial, sans-serif" font-size="3.4" fill="#555">Co-Managed by COO and CFO</text>
</g>
</g>
</svg>
